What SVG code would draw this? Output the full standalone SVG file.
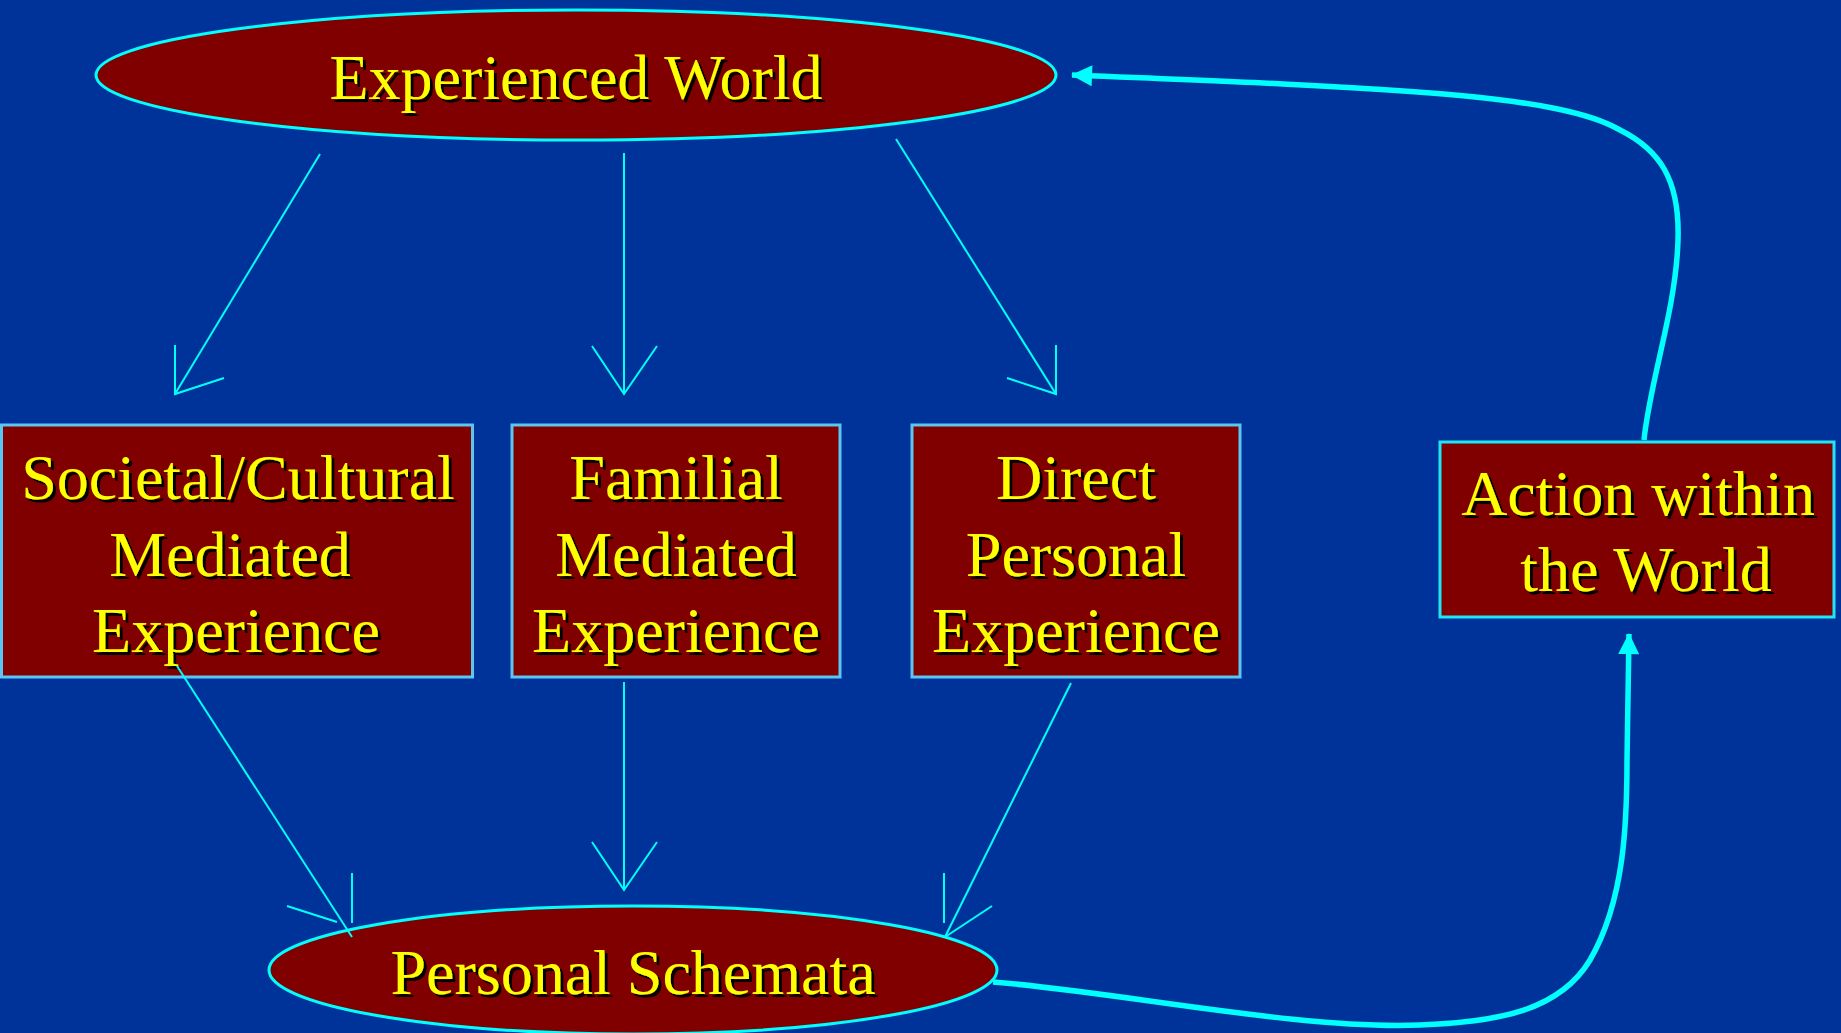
<svg xmlns="http://www.w3.org/2000/svg" width="1841" height="1033" viewBox="0 0 1841 1033">
  <defs>
    <style>
      .bg { fill: #003399; }
      .node { fill: #800000; }
      .oval { stroke: #00FFFF; stroke-width: 3; }
      .box { stroke: #5CC6F2; stroke-width: 3; }
      .box-action { stroke: #1FE6F5; stroke-width: 3; }
      .label { font-family: "Liberation Serif", "Times New Roman", serif; font-size: 64px; fill: #FFFF00; text-anchor: middle; filter: url(#shadow); }
      .thin { stroke: #00FFFF; stroke-width: 2; fill: none; }
      .thick { stroke: #00FFFF; stroke-width: 5.5; fill: none; }
    </style>
    <filter id="shadow" x="-10%" y="-20%" width="120%" height="140%">
      <feDropShadow dx="3" dy="3" stdDeviation="0" flood-color="#000000" flood-opacity="1"/>
    </filter>
    <marker id="solid-head" viewBox="0 0 22 22" refX="21" refY="11" markerWidth="22" markerHeight="21" markerUnits="userSpaceOnUse" orient="auto">
      <path d="M0,0 L22,11 L0,22 Z" fill="#00FFFF"/>
    </marker>
  </defs>

  <rect class="bg" x="0" y="0" width="1841" height="1033"/>

  <g id="experienced-world">
    <ellipse class="node oval" cx="576" cy="75" rx="480" ry="65"/>
    <text class="label" x="576" y="99">Experienced World</text>
  </g>

  <g id="societal-cultural">
    <rect class="node box" x="1.5" y="425" width="471" height="252"/>
    <text class="label" x="238" y="499">Societal/Cultural</text>
    <text class="label" x="230" y="576">Mediated</text>
    <text class="label" x="236" y="652">Experience</text>
  </g>

  <g id="familial">
    <rect class="node box" x="512" y="425" width="328" height="252"/>
    <text class="label" x="676" y="499">Familial</text>
    <text class="label" x="676" y="576">Mediated</text>
    <text class="label" x="676" y="652">Experience</text>
  </g>

  <g id="direct-personal">
    <rect class="node box" x="912" y="425" width="328" height="252"/>
    <text class="label" x="1076" y="499">Direct</text>
    <text class="label" x="1076" y="576">Personal</text>
    <text class="label" x="1076" y="652">Experience</text>
  </g>

  <g id="action-within-world">
    <rect class="node box-action" x="1440" y="442" width="394" height="175"/>
    <text class="label" x="1638" y="515">Action within</text>
    <text class="label" x="1646" y="591">the World</text>
  </g>

  <g id="personal-schemata">
    <ellipse class="node oval" cx="633" cy="970" rx="364" ry="64"/>
    <text class="label" x="633" y="994">Personal Schemata</text>
  </g>

  <g id="connectors">
    <!-- Experienced World to the three kinds of experience -->
    <line class="thin" x1="320" y1="154" x2="175" y2="394"/>
    <polyline class="thin" points="175,345 175,394 224,378"/>
    <line class="thin" x1="624" y1="153" x2="624" y2="394"/>
    <polyline class="thin" points="592,346 624,394 657,346"/>
    <line class="thin" x1="896" y1="139" x2="1056" y2="394"/>
    <polyline class="thin" points="1056,345 1056,394 1007,378"/>

    <!-- Experience boxes to Personal Schemata -->
    <line class="thin" x1="177" y1="666" x2="352" y2="937"/>
    <line class="thin" x1="352" y1="873" x2="352" y2="923"/>
    <line class="thin" x1="287" y1="906" x2="337" y2="922"/>
    <line class="thin" x1="624" y1="682" x2="624" y2="890"/>
    <polyline class="thin" points="592,842 624,890 657,842"/>
    <line class="thin" x1="1071" y1="683" x2="945" y2="937"/>
    <line class="thin" x1="944" y1="873" x2="944" y2="923"/>
    <line class="thin" x1="992" y1="906" x2="945" y2="937"/>

    <!-- Feedback loop: schemata to action, action back to the world -->
    <path class="thick" marker-end="url(#solid-head)" d="M993,982 C1120,992 1300,1030 1420,1025 C1500,1022 1560,1010 1590,960 C1625,900 1627,820 1627,760 L1629,634"/>
    <path class="thick" marker-end="url(#solid-head)" d="M1644,440 C1650,380 1676,310 1678,240 C1680,180 1660,150 1620,130 C1560,95 1400,88 1072,75"/>
  </g>
</svg>
